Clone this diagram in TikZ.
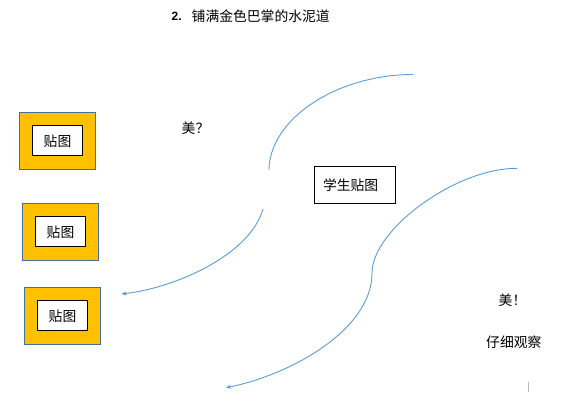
\documentclass[tikz,border=0pt]{standalone}
\usepackage{fontspec}
\setmainfont{Liberation Sans}
\newfontfamily\cjk{Noto Sans CJK SC}
\usetikzlibrary{arrows.meta}
\definecolor{gold}{HTML}{FFC000}
\definecolor{goldedge}{HTML}{41719C}
\definecolor{curveblue}{HTML}{5B9BD5}
\tikzset{
  outerbox/.style={draw=goldedge, fill=gold, line width=1pt, inner sep=0pt},
  innerbox/.style={draw=black, fill=white, line width=1pt, inner sep=0pt, font=\cjk\fontsize{13.8}{16}\selectfont},
  cjktext/.style={inner sep=0pt, font=\cjk\fontsize{13.8}{16}\selectfont},
  flow/.style={draw=curveblue, line width=0.9pt},
  flowarrow/.style={flow, -{Stealth[length=5pt,width=4pt]}}
}
\begin{document}
\begin{tikzpicture}[x=1pt,y=-1pt]
\useasboundingbox (0,0) rectangle (578,417);
% title
\node[inner sep=0pt, anchor=west, font=\bfseries\fontsize{12}{14}\selectfont, text=black] (tnum) at (171.5,16.5) {2.};
\node[cjktext, anchor=west] (title) at (191.5,16.5) {铺满金色巴掌的水泥道};
% left boxes
\node[outerbox, minimum width=76.4pt, minimum height=57pt] (o1) at (57.5,140.8) {};
\node[innerbox, minimum width=49.4pt, minimum height=30pt] (i1) at (o1.center) {贴图};
\node[outerbox, minimum width=76.4pt, minimum height=57pt] (o2) at (60.5,231.8) {};
\node[innerbox, minimum width=49.4pt, minimum height=30pt] (i2) at (o2.center) {贴图};
\node[outerbox, minimum width=76.4pt, minimum height=57pt] (o3) at (62.5,315.8) {};
\node[innerbox, minimum width=49.4pt, minimum height=30pt] (i3) at (o3.center) {贴图};
% center box
\node[draw=black, line width=1pt, inner xsep=8.7pt, inner ysep=0pt, text width=64pt, align=left, minimum height=37.4pt, font=\cjk\fontsize{13.8}{16}\selectfont] (s) at (355,185) {学生贴图};
% labels
\node[cjktext, anchor=west] (q) at (181.5,128.5) {美？};
\node[cjktext, anchor=west] (e) at (498.5,300) {美！};
\node[cjktext, anchor=west] (obs) at (486,342) {仔细观察};
% curves
\coordinate (c1a) at (413,74.5);
\coordinate (c1b) at (269,169.5);
\coordinate (c2a) at (263,209);
\coordinate (c2b) at (121.5,294);
\coordinate (c3a) at (517,168.3);
\coordinate (c3m) at (372,273);
\coordinate (c3b) at (226,387.7);
\draw[flow] (c1a) .. controls (338,74.5) and (270,118) .. (c1b);
\draw[flowarrow] (c2a) .. controls (250,255) and (175,288) .. (c2b);
\draw[flowarrow] (c3a) .. controls (455,168.3) and (372,230) .. (c3m)
                      .. controls (372,330) and (290,375) .. (c3b);
% small mark
\coordinate (m1) at (528.3,381.7);
\coordinate (m2) at (528.3,392.3);
\draw[gray!55, line width=0.8pt] (m1) -- (m2);
\end{tikzpicture}
\end{document}
